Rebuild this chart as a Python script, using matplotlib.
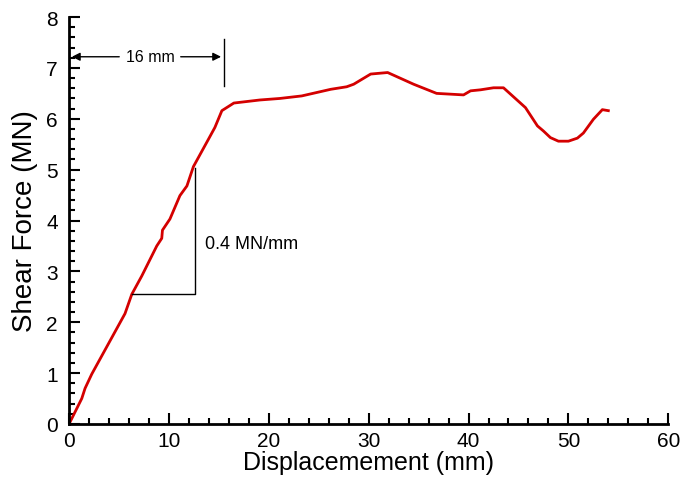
import matplotlib
matplotlib.use("Agg")
import matplotlib.pyplot as plt
from matplotlib.ticker import MultipleLocator

plt.rcParams['font.family'] = ['Liberation Sans', 'DejaVu Sans']

# load-displacement curve
disp = [0.0, 1.27, 1.6, 2.27, 5.6, 6.28, 7.28, 8.78, 9.28, 9.35, 10.1, 11.1, 11.8,
        12.45, 13.96, 14.6, 15.3, 16.5, 19.1, 21.1, 23.3, 26.2, 27.8, 28.5, 30.2,
        31.9, 34.5, 36.8, 39.5, 40.2, 41.2, 42.5, 43.5, 45.7, 46.9, 47.5, 48.2,
        49.0, 50.0, 50.9, 51.5, 52.5, 53.4, 54.0]
force = [0.0, 0.50, 0.70, 0.98, 2.17, 2.55, 2.91, 3.50, 3.65, 3.81, 4.03, 4.49, 4.68,
         5.06, 5.60, 5.83, 6.16, 6.31, 6.37, 6.40, 6.45, 6.58, 6.63, 6.68, 6.88,
         6.91, 6.68, 6.50, 6.47, 6.55, 6.57, 6.61, 6.61, 6.22, 5.86, 5.76, 5.63,
         5.56, 5.56, 5.62, 5.72, 5.99, 6.18, 6.16]

# stiffness triangle and 16 mm marker
tri_x = [6.28, 12.6, 12.6]
tri_y = [2.55, 2.55, 5.04]
mark_x = 15.5
mark_y = 7.22

fig = plt.figure(figsize=(6.84, 4.89), dpi=100)
ax = fig.add_axes([0.101, 0.131, 0.876, 0.832])

ax.plot(disp, force, color='#d40000', lw=2)
ax.plot(tri_x, tri_y, color='black', lw=1)
ax.text(13.6, 3.55, '0.4 MN/mm', fontsize=13, va='center', ha='left')

ax.plot([mark_x, mark_x], [6.65, 7.56], color='black', lw=1)
ax.annotate('', xy=(0, mark_y), xytext=(5.3, mark_y),
            arrowprops=dict(arrowstyle='-|>', color='black', lw=1, mutation_scale=12))
ax.annotate('', xy=(mark_x, mark_y), xytext=(10.9, mark_y),
            arrowprops=dict(arrowstyle='-|>', color='black', lw=1, mutation_scale=12))
ax.text(8.1, mark_y, '16 mm', fontsize=11.5, ha='center', va='center')

ax.set_xlim(0, 60)
ax.set_ylim(0, 8)
ax.xaxis.set_major_locator(MultipleLocator(10))
ax.xaxis.set_minor_locator(MultipleLocator(2))
ax.yaxis.set_major_locator(MultipleLocator(1))
ax.yaxis.set_minor_locator(MultipleLocator(0.2))
ax.tick_params(which='both', direction='in', width=1.5, labelsize=15)
ax.tick_params(which='major', length=8)
ax.tick_params(which='minor', length=4)
ax.tick_params(axis='y', pad=8)
ax.tick_params(axis='x', pad=5)
ax.spines['top'].set_visible(False)
ax.spines['right'].set_visible(False)
ax.spines['left'].set_linewidth(2)
ax.spines['bottom'].set_linewidth(2)

ax.set_xlabel('Displacemement (mm)', fontsize=18, labelpad=0)
ax.set_ylabel('Shear Force (MN)', fontsize=20, labelpad=6)

fig.savefig('out.png', dpi=100)
